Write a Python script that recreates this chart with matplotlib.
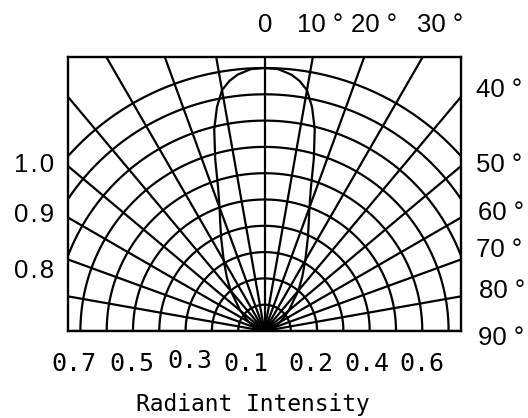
import numpy as np
import matplotlib
matplotlib.use("Agg")
import matplotlib.pyplot as plt

# ---- data ----
ring_values = [0.1, 0.2, 0.3, 0.4, 0.5, 0.6, 0.7, 0.8, 0.9, 1.0]
ray_angles = list(range(-90, 91, 10))
lobe_angles = [0, 3, 6, 8, 10, 12, 14, 16, 18, 20, 22, 25, 30, 35, 40, 50, 60, 70, 80, 90]
lobe_intensity = [1.0, 0.997, 0.98, 0.96, 0.93, 0.87, 0.79, 0.68, 0.57, 0.50,
                  0.45, 0.39, 0.31, 0.25, 0.20, 0.12, 0.07, 0.03, 0.01, 0.0]
top_labels = ["0", "10 °", "20 °", "30 °"]
right_labels = ["40 °", "50 °", "60 °", "70 °", "80 °", "90 °"]
left_labels = ["1\u200a.\u200a0", "0\u200a.\u200a9", "0\u200a.\u200a8"]
bottom_labels = ["0.7", "0.5", "0.3", "0.1", "0.2", "0.4", "0.6"]
x_title = "Radiant Intensity"

# ---- layout (pixels) ----
W, H = 528, 418
fig = plt.figure(figsize=(W / 100, H / 100), dpi=100)
ax = fig.add_axes([68 / W, 1 - 331 / H, 393 / W, 274 / H])
ax.set_xlim(-196.5 / 263, 196.5 / 263)
ax.set_ylim(0, 274 / 263)
ax.set_xticks([])
ax.set_yticks([])
for s in ax.spines.values():
    s.set_linewidth(1.7)
    s.set_color("black")

lw = 1.6
t = np.linspace(0, np.pi, 400)
for r in ring_values:
    ax.plot(r * np.cos(t), r * np.sin(t), color="black", lw=lw)

for a in ray_angles:
    ar = np.deg2rad(a)
    ax.plot([0, 3 * np.sin(ar)], [0, 3 * np.cos(ar)], color="black", lw=lw)

la = np.deg2rad(np.array(lobe_angles, dtype=float))
li = np.array(lobe_intensity)
full_a = np.concatenate([-la[::-1], la[1:]])
full_i = np.concatenate([li[::-1], li[1:]])
ax.plot(full_i * np.sin(full_a), full_i * np.cos(full_a), color="black", lw=lw)


def px(x, y):
    return x / W, 1 - y / H


sans = "Liberation Sans"
mono = "DejaVu Sans Mono"

top_x = [265, 320, 374, 440]
for s, x in zip(top_labels, top_x):
    fig.text(*px(x, 32), s, ha="center", va="baseline", fontsize=18.5, family=sans)

right_y = [96.7, 171.7, 220, 256.7, 298, 345]
right_x = [476, 476, 478, 476, 479, 478]
for s, x, y in zip(right_labels, right_x, right_y):
    fig.text(*px(x, y), s, ha="left", va="baseline", fontsize=18.5, family=sans)

left_y = [171.7, 221.7, 278]
for s, y in zip(left_labels, left_y):
    fig.text(*px(54, y), s, ha="right", va="baseline", fontsize=18.5, family=sans)

bottom_x = [74, 132, 190, 246, 311, 367, 422]
bottom_y = [371, 371, 368, 371, 371, 371, 371]
for s, x, y in zip(bottom_labels, bottom_x, bottom_y):
    fig.text(*px(x, y), s, ha="center", va="baseline", fontsize=18, family=mono)

fig.text(*px(253, 411), x_title, ha="center", va="baseline", fontsize=16.5, family=mono)

fig.savefig("out.png", dpi=100)
